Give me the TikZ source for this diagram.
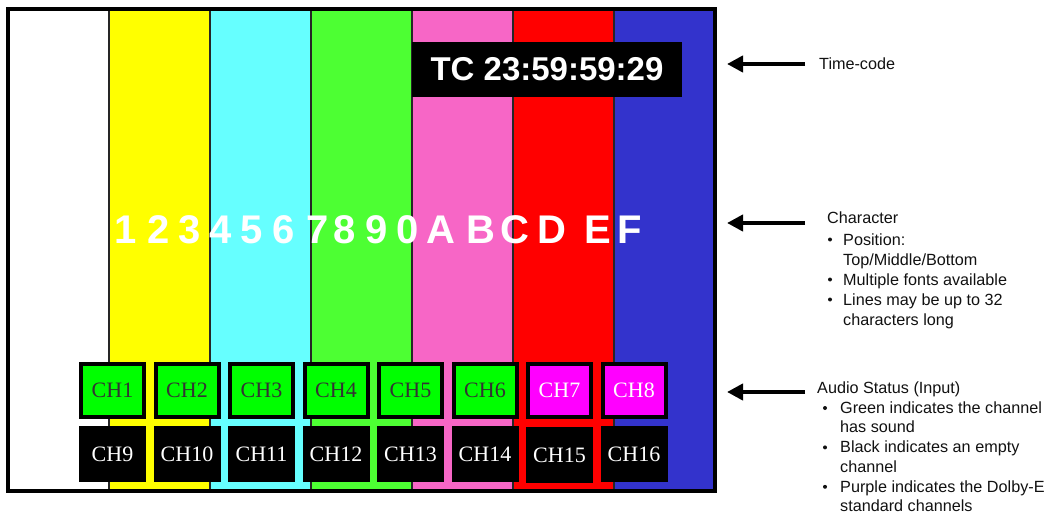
\documentclass[tikz,border=0pt]{standalone}
\usepackage{fontspec}
\setmainfont{Liberation Sans}
\newfontfamily\chfont{Liberation Serif}
\usetikzlibrary{arrows.meta}
\definecolor{barWhite}{HTML}{FFFFFF}
\definecolor{barYellow}{HTML}{FFFF00}
\definecolor{barCyan}{HTML}{66FFFF}
\definecolor{barGreen}{HTML}{4DFF33}
\definecolor{barPink}{HTML}{F766C6}
\definecolor{barRed}{HTML}{FF0000}
\definecolor{barBlue}{HTML}{3333CC}
\definecolor{chGreen}{HTML}{00FF00}
\definecolor{chMagenta}{HTML}{FF00FF}
\definecolor{chText}{HTML}{333333}
\definecolor{noteText}{HTML}{111111}
\begin{document}
\begin{tikzpicture}[x=1pt,y=-1pt,
  divider/.style={draw=black!85,line width=1.5pt},
  frame/.style={draw=black,line width=4pt},
  tcbox/.style={fill=black,text=white,minimum width=270pt,minimum height=55pt,inner sep=0pt,
    font=\bfseries\fontsize{33}{33}\selectfont},
  charlbl/.style={text=white,inner sep=0pt,anchor=base,font=\bfseries\fontsize{40}{40}\selectfont},
  chon/.style={draw=black,line width=4pt,fill=chGreen,text=chText,minimum width=63pt,minimum height=53pt,
    inner sep=0pt,font=\chfont\fontsize{22}{22}\selectfont},
  chdolby/.style={chon,fill=chMagenta,text=white},
  choff/.style={fill=black,text=white,minimum width=67pt,minimum height=56.5pt,
    inner sep=0pt,font=\chfont\fontsize{22}{22}\selectfont},
  pointer/.style={draw=black,line width=4.7pt,-{Triangle[length=16pt,width=16pt]}},
  note/.style={anchor=base west,inner sep=0pt,text=noteText,font=\fontsize{16.2}{16.2}\selectfont},
  bul/.style={circle,fill=noteText,inner sep=0pt,minimum size=4pt}]
\useasboundingbox (0,0) rectangle (1045,514);
% colour bars
\fill[barWhite]  (10,11) rectangle (109,489);
\fill[barYellow] (109,11) rectangle (210,489);
\fill[barCyan]   (210,11) rectangle (311,489);
\fill[barGreen]  (311,11) rectangle (412,489);
\fill[barPink]   (412,11) rectangle (513,489);
\fill[barRed]    (513,11) rectangle (614,489);
\fill[barBlue]   (614,11) rectangle (713,489);
\foreach \xx in {109,210,311,412,513,614} \draw[divider] (\xx,11) -- (\xx,489);
\draw[frame] (8,9) rectangle (715.3,491.3);
% time code
\node[tcbox] (tc) at (547,69.5) {TC 23:59:59:29};
% character row
\foreach \ch/\cx [count=\i] in {1/126,2/158.5,3/189.5,4/220.5,5/252,6/283.5,7/318,8/345,9/376.5,0/407.5,A/441,B/480.5,C/514.5,D/552,E/598,F/629.5}
  \node[charlbl] (char\i) at (\cx,243) {\ch};
% audio channels
\foreach \n [count=\i from 0] in {1,...,6}
  \node[chon] (ch\n) at (112.5+74.5*\i,390.5) {CH\n};
\node[chdolby] (ch7) at (112.5+74.5*6,390.5) {CH7};
\node[chdolby] (ch8) at (112.5+74.5*7,390.5) {CH8};
\foreach \n [count=\i from 0] in {9,10,11,12,13,14}
  \node[choff] (ch\n) at (112.5+74.5*\i,454.2) {CH\n};
\node[choff] (ch15) at (112.5+74.5*6,455.2) {CH15};
\node[choff] (ch16) at (112.5+74.5*7,454.2) {CH16};
% pointers
\coordinate (tcs) at (805,64);   \coordinate (tct) at (727,64);
\coordinate (chs) at (805,223);  \coordinate (cht) at (727,223);
\coordinate (aus) at (805,392);  \coordinate (aut) at (727,392);
\draw[pointer] (tcs) -- (tct);
\draw[pointer] (chs) -- (cht);
\draw[pointer] (aus) -- (aut);
% notes: time code
\node[note] (tcnote) at (819,69.5) {Time-code};
% notes: character
\node[note] (cnote) at (827,223.5) {Character};
\node[note] (c1) at (843,245) {Position:};
\node[note] (c1b) at (843,265) {Top/Middle/Bottom};
\node[note] (c2) at (843,285) {Multiple fonts available};
\node[note] (c3) at (843,305) {Lines may be up to 32};
\node[note] (c3b) at (843,325) {characters long};
\node[bul] (cb1) at (830,239.5) {};
\node[bul] (cb2) at (830,279.5) {};
\node[bul] (cb3) at (830,299.5) {};
% notes: audio
\node[note] (anote) at (817,393.5) {Audio Status (Input)};
\node[note] (a1) at (840,413.2) {Green indicates the channel};
\node[note] (a1b) at (840,432.9) {has sound};
\node[note] (a2) at (840,452.6) {Black indicates an empty};
\node[note] (a2b) at (840,472.3) {channel};
\node[note] (a3) at (840,492) {Purple indicates the Dolby-E};
\node[note] (a3b) at (840,511.7) {standard channels};
\node[bul] (ab1) at (825,408) {};
\node[bul] (ab2) at (825,447.4) {};
\node[bul] (ab3) at (825,486.8) {};
\end{tikzpicture}
\end{document}
